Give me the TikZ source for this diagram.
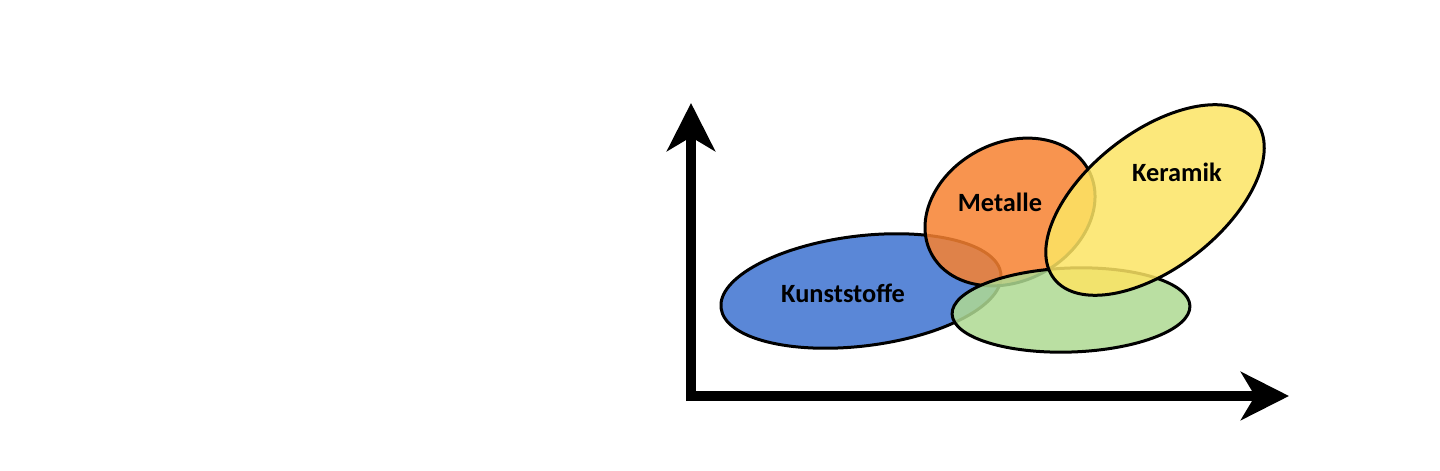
\documentclass[tikz,border=0pt]{standalone}
\usepackage{fontspec}
\setmainfont{Carlito}
\usetikzlibrary{shapes.geometric,arrows.meta}
\definecolor{kunstblue}{HTML}{3E73D0}
\definecolor{metallorange}{HTML}{F78231}
\definecolor{mixgreen}{HTML}{AFDA92}
\definecolor{keramikyellow}{HTML}{FCE464}

\begin{document}
\begin{tikzpicture}[x=0.1mm,y=0.1mm,
  blob/.style={shape=ellipse,draw,line width=0.3mm,fill opacity=0.85,inner sep=0pt},
  lbl/.style={font=\fontsize{7.5}{9}\selectfont\bfseries},
  axis/.style={line width=0.95mm,-{Stealth[length=4.8mm,width=4.8mm,inset=1.4mm]}}]
\fill[white] (0,0) rectangle (1440,470);

% axes
\coordinate (ybot) at (691,69);
\coordinate (ytop) at (691,367);
\coordinate (xleft) at (687,74);
\coordinate (xright) at (1289,74);
\draw[axis] (ybot) -- (ytop);
\draw[axis] (xleft) -- (xright);

% material groups
\path (861,179) node (kunstell) [blob,fill=kunstblue,minimum width=28.2mm,minimum height=11mm,rotate=7] {};
\path (1010,258) node (metallell) [blob,fill=metallorange,minimum width=17.8mm,minimum height=13.8mm,rotate=28] {};
\path (1071,160) node (mixell) [blob,fill=mixgreen,minimum width=23.8mm,minimum height=8.4mm,rotate=2] {};
\path (1155,270) node (keramell) [blob,fill=keramikyellow,minimum width=25.6mm,minimum height=13.6mm,rotate=38] {};

\path (843,177) node (kunst) [lbl] {Kunststoffe};
\path (1000,268) node (metall) [lbl] {Metalle};
\path (1177,298) node (keram) [lbl] {Keramik};

\end{tikzpicture}
\end{document}
